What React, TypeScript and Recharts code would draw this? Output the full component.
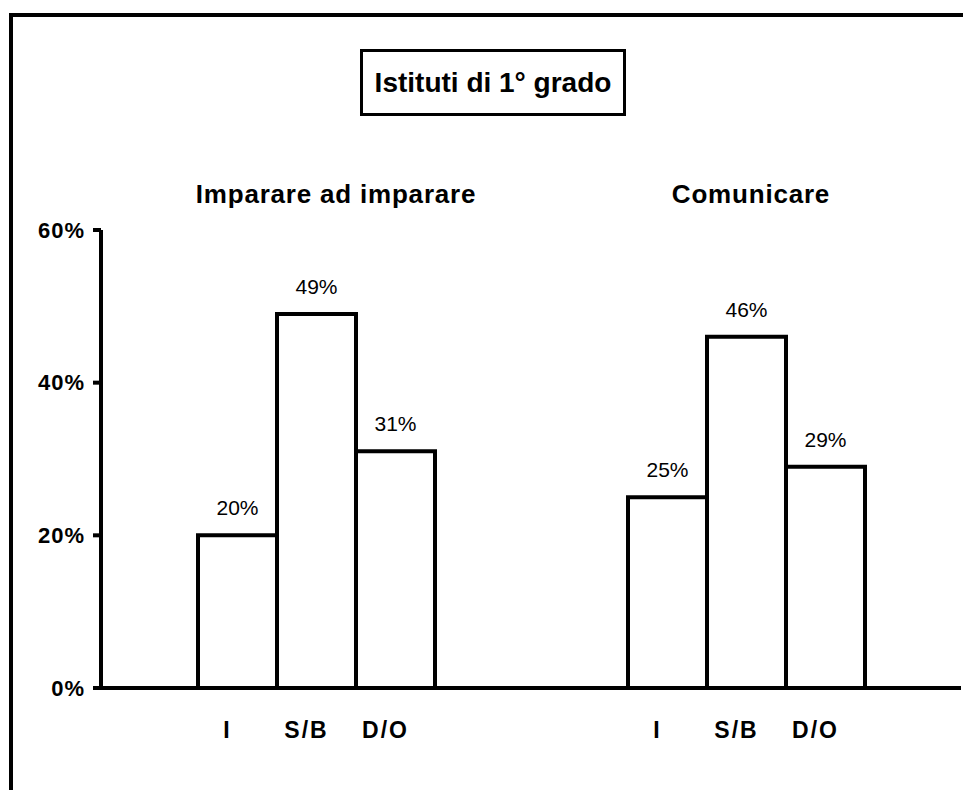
import { BarChart, Bar, XAxis, YAxis, LabelList } from 'recharts';

const GROUPS = ['Imparare ad imparare', 'Comunicare'];
const SERIES = ['I', 'S/B', 'D/O'];
const I_VALUES = [20, 25];
const SB_VALUES = [49, 46];
const DO_VALUES = [31, 29];
const Y_TICKS = [0, 20, 40, 60];

const FONT = '"Liberation Sans", Arial, sans-serif';

const data = GROUPS.map((group, i) => ({
  group,
  I: I_VALUES[i],
  SB: SB_VALUES[i],
  DO: DO_VALUES[i],
}));

// little shifts the original has on its group titles
const TITLE_NUDGE = [20, 5];

const GroupTitle = ({ x = 0, y = 0, payload, index = 0 }: any) => (
  <text
    x={x + (TITLE_NUDGE[index] || 0)}
    y={y - 19}
    textAnchor="middle"
    fontFamily={FONT}
    fontSize={26}
    fontWeight={700}
    letterSpacing={0.8}
    fill="#000"
  >
    {payload?.value}
  </text>
);

const makeLabels = (name: string) => (props: any) => {
  const vb = props.viewBox || props;
  const x = Number(vb.x) || 0;
  const y = Number(vb.y) || 0;
  const width = Number(vb.width) || 0;
  const height = Number(vb.height) || 0;
  const cx = x + width / 2;
  return (
    <g>
      <text x={cx} y={y - 20} textAnchor="middle" fontFamily={FONT} fontSize={21} fill="#000">
        {props.value}%
      </text>
      <text
        x={cx - 10}
        y={y + height + 50}
        textAnchor="middle"
        fontFamily={FONT}
        fontSize={23}
        fontWeight={700}
        letterSpacing={2}
        fill="#000"
      >
        {name}
      </text>
    </g>
  );
};

const barProps = {
  fill: '#fff',
  stroke: '#000',
  strokeWidth: 4,
  barSize: 79,
  isAnimationActive: false,
};

export default function App() {
  return (
    <div
      style={{
        position: 'relative',
        margin: -8,
        width: 971,
        height: 798,
        overflow: 'hidden',
        background: '#fff',
      }}
    >
      <div
        style={{
          position: 'absolute',
          left: 9,
          top: 13,
          width: 1100,
          height: 1000,
          border: '4px solid #000',
        }}
      />
      <div
        style={{
          position: 'absolute',
          left: 360,
          top: 49,
          width: 266,
          height: 67,
          boxSizing: 'border-box',
          border: '3px solid #000',
          display: 'flex',
          alignItems: 'center',
          justifyContent: 'center',
          fontFamily: FONT,
          fontSize: 28,
          fontWeight: 700,
        }}
      >
        Istituti di 1° grado
      </div>
      <div style={{ position: 'absolute', left: 0, top: 0 }}>
        <BarChart
          width={963}
          height={790}
          data={data}
          barGap={0}
          margin={{ top: 170, right: 2, bottom: 101, left: 0 }}
        >
          <XAxis
            xAxisId="top"
            orientation="top"
            dataKey="group"
            height={60}
            axisLine={false}
            tickLine={false}
            tick={<GroupTitle />}
          />
          <XAxis
            dataKey="group"
            height={1}
            tick={false}
            tickLine={false}
            axisLine={{ stroke: '#000', strokeWidth: 4 }}
          />
          <YAxis
            width={101}
            domain={[0, 60]}
            ticks={Y_TICKS}
            tickFormatter={(v) => `${v}%`}
            tickSize={8}
            tickMargin={8}
            axisLine={{ stroke: '#000', strokeWidth: 4 }}
            tickLine={{ stroke: '#000', strokeWidth: 4 }}
            tick={{ fill: '#000', fontFamily: FONT, fontSize: 22, fontWeight: 700, letterSpacing: 1 }}
          />
          <Bar dataKey="I" {...barProps}>
            <LabelList dataKey="I" content={makeLabels(SERIES[0])} />
          </Bar>
          <Bar dataKey="SB" {...barProps}>
            <LabelList dataKey="SB" content={makeLabels(SERIES[1])} />
          </Bar>
          <Bar dataKey="DO" {...barProps}>
            <LabelList dataKey="DO" content={makeLabels(SERIES[2])} />
          </Bar>
        </BarChart>
      </div>
    </div>
  );
}
